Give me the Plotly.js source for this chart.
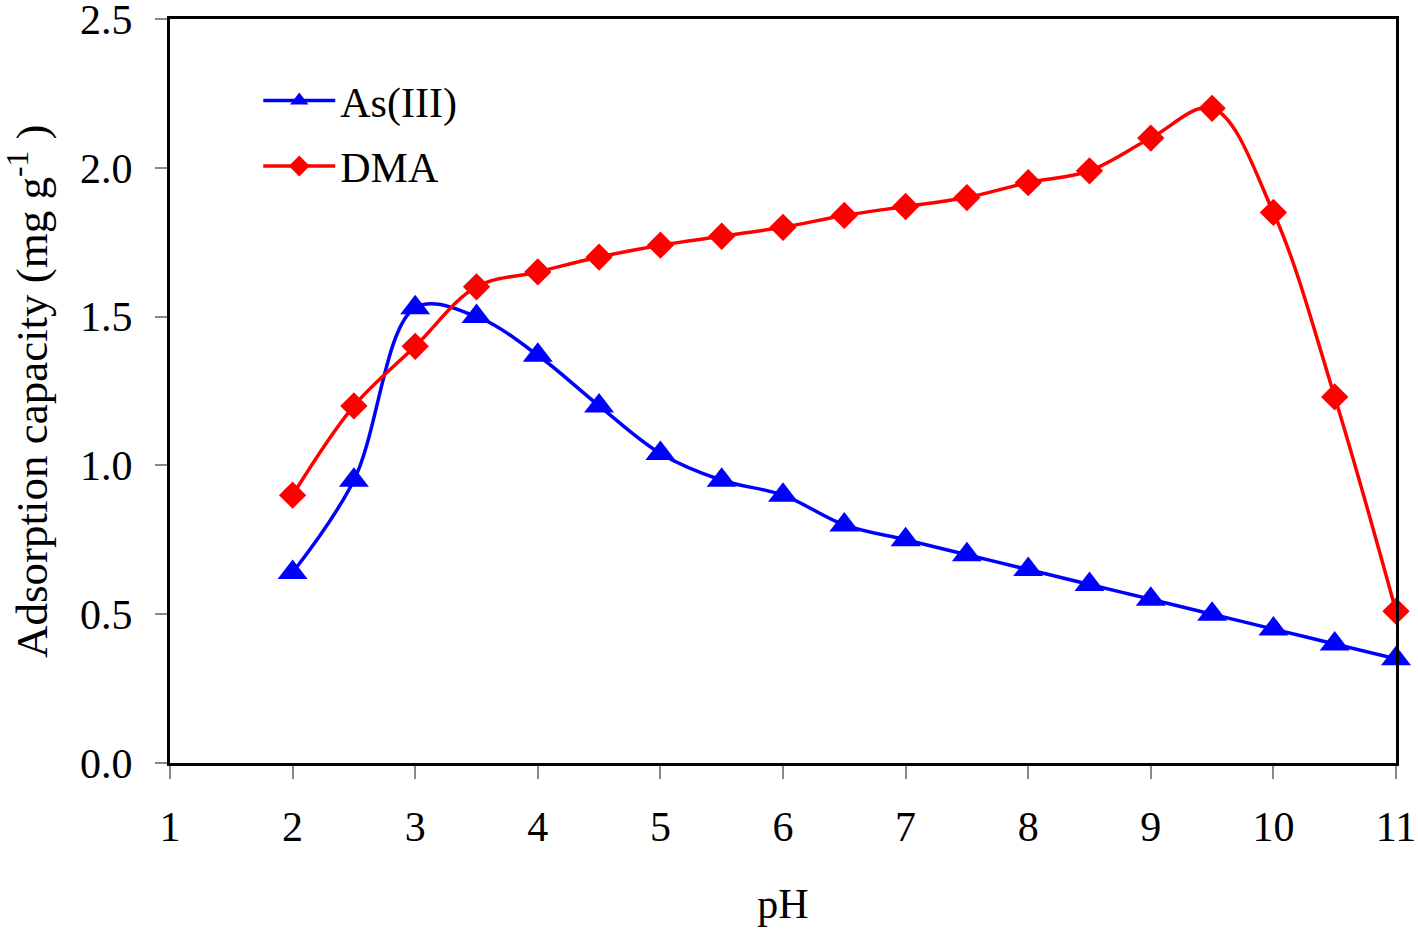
<!DOCTYPE html>
<html>
<head>
<meta charset="utf-8">
<script src="https://cdn.plot.ly/plotly-3.0.1.min.js"></script>
<style>html,body{margin:0;padding:0;background:#fff;}#chart{width:1418px;height:933px;}</style>
</head>
<body>
<div id="chart"></div>
<script>
const pH = [2, 2.5, 3, 3.5, 4, 4.5, 5, 5.5, 6, 6.5, 7, 7.5, 8, 8.5, 9, 9.5, 10, 10.5, 11];
const asIII = [0.64, 0.95, 1.53, 1.50, 1.37, 1.20, 1.04, 0.95, 0.90, 0.80, 0.75, 0.70, 0.65, 0.60, 0.55, 0.50, 0.45, 0.40, 0.35];
const dma = [0.90, 1.20, 1.40, 1.60, 1.65, 1.70, 1.74, 1.77, 1.80, 1.84, 1.87, 1.90, 1.95, 1.99, 2.10, 2.20, 1.85, 1.23, 0.51];
const xTicks = [1, 2, 3, 4, 5, 6, 7, 8, 9, 10, 11];
const yTicks = [0, 0.5, 1.0, 1.5, 2.0, 2.5];
const yTickText = ['0.0', '0.5', '1.0', '1.5', '2.0', '2.5'];
const yTitle = 'Adsorption capacity (mg g<sup>-1</sup> )';

const font = 'Liberation Serif, Times New Roman, serif';

const traces = [
  {x: pH, y: asIII, name: 'As(III)', legendgroup: 'a', mode: 'lines+markers', type: 'scatter', cliponaxis: false,
   line: {color: '#0000ff', width: 3.5, shape: 'spline', smoothing: 1},
   marker: {symbol: 'triangle-up', size: 26, color: '#0000ff'}},
  {x: pH, y: dma, name: 'DMA', legendgroup: 'b', mode: 'lines+markers', type: 'scatter', cliponaxis: false,
   line: {color: '#ff0000', width: 3.5, shape: 'spline', smoothing: 1},
   marker: {symbol: 'diamond', size: 21, color: '#ff0000'}}
];

const layout = {
  width: 1418, height: 933,
  margin: {l: 170, r: 22, t: 19, b: 170},
  paper_bgcolor: '#fff', plot_bgcolor: '#fff',
  font: {family: font, size: 42, color: '#000'},
  showlegend: true,
  legend: {x: 0.072, y: 0.936, xanchor: 'left', yanchor: 'top', bgcolor: 'rgba(0,0,0,0)',
           font: {family: font, size: 42, color: '#000'}, itemwidth: 72, tracegroupgap: 8,
           traceorder: 'grouped'},
  xaxis: {range: [1, 11], tickvals: xTicks, ticktext: xTicks.map(String),
          showgrid: false, zeroline: false, showline: true, linecolor: '#000', linewidth: 3, mirror: true,
          ticks: 'outside', ticklen: 13, tickwidth: 2, tickcolor: '#888',
          ticklabelstandoff: 12, ticklabeloverflow: 'allow',
          tickfont: {family: font, size: 42, color: '#000'},
          title: {text: 'pH', font: {family: font, size: 42, color: '#000'}, standoff: 40}},
  yaxis: {range: [0, 2.5], tickvals: yTicks, ticktext: yTickText,
          showgrid: false, zeroline: false, showline: true, linecolor: '#000', linewidth: 3, mirror: true,
          ticks: 'outside', ticklen: 12, tickwidth: 2, tickcolor: '#888',
          ticklabelstandoff: 14, ticklabeloverflow: 'allow',
          tickfont: {family: font, size: 42, color: '#000'}},
  annotations: [{text: yTitle, xref: 'paper', yref: 'paper', x: -0.1158, y: 0.5,
                 xanchor: 'center', yanchor: 'middle', textangle: -90, showarrow: false,
                 font: {family: font, size: 45, color: '#000'}}]
};

Plotly.newPlot('chart', traces, layout, {displayModeBar: false, staticPlot: true});
</script>
</body>
</html>
